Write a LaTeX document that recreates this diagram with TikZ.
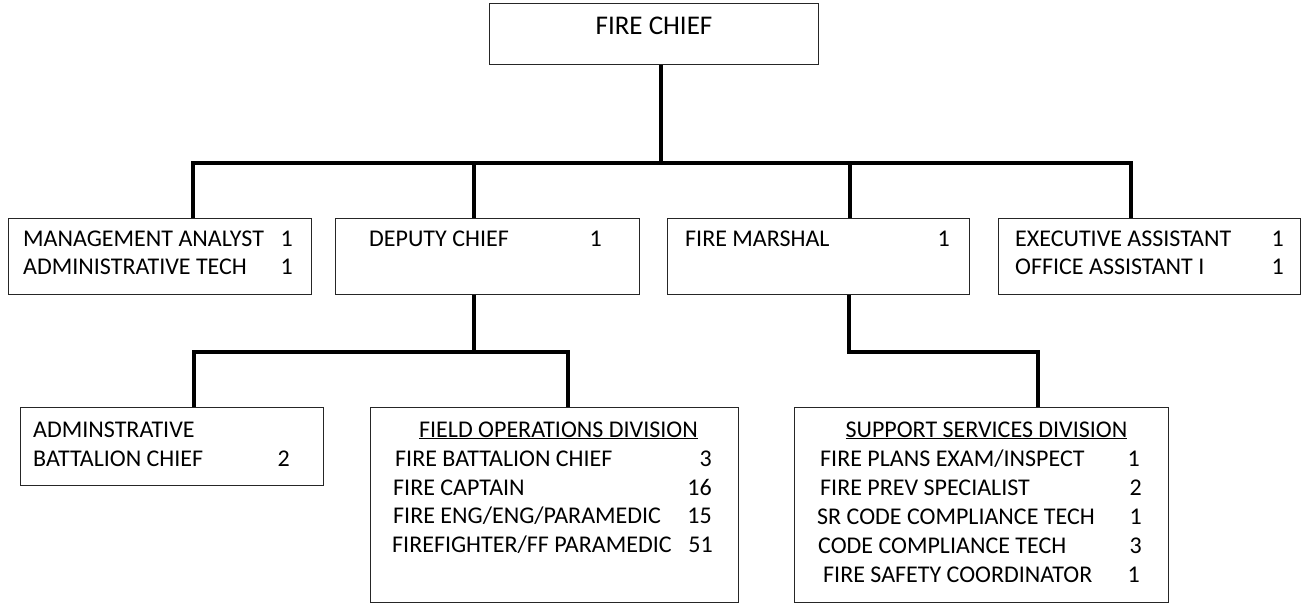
\documentclass[tikz,border=0pt]{standalone}
\usepackage{fontspec}
\setmainfont{Carlito}
\tikzset{
  x=1pt, y=-1pt,
  box/.style={draw=black!85, line width=1.2pt, anchor=north west, inner sep=0pt, rectangle},
  conn/.style={draw=black, line width=4pt, line join=miter},
  lbl/.style={inner sep=0pt, anchor=base west, font=\fontsize{24}{28}\selectfont},
  num/.style={inner sep=0pt, anchor=base east, font=\fontsize{24}{28}\selectfont},
  head/.style={inner sep=0pt, anchor=base, font=\fontsize{24}{28}\selectfont},
}
\begin{document}
\begin{tikzpicture}
\useasboundingbox (0,0) rectangle (1302,604);

% boxes
\node[box, minimum width=329pt, minimum height=61pt] (chief)   at (489,3)   {};
\node[box, minimum width=303pt, minimum height=76pt] (mgmt)    at (8,218)   {};
\node[box, minimum width=304pt, minimum height=76pt] (deputy)  at (335,218) {};
\node[box, minimum width=302pt, minimum height=76pt] (marshal) at (667,218) {};
\node[box, minimum width=302pt, minimum height=76pt] (exec)    at (998,218) {};
\node[box, minimum width=303pt, minimum height=78pt] (admin)   at (20,407)  {};
\node[box, minimum width=368pt, minimum height=195pt] (fod)    at (370,407) {};
\node[box, minimum width=374pt, minimum height=195pt] (ssd)    at (794,407) {};

% bus coordinates
\coordinate (busC)  at (661,163);
\coordinate (busL)  at (193,163);
\coordinate (busD)  at (474,163);
\coordinate (busM)  at (850,163);
\coordinate (busR)  at (1131,163);
\coordinate (depB)  at (474,352);
\coordinate (depL)  at (193.5,352);
\coordinate (depR)  at (568,352);
\coordinate (marB)  at (849,352);
\coordinate (marR)  at (1037.5,352);

% connectors
\draw[conn] (chief.south -| busC) -- (busC);
\draw[conn] (mgmt.north -| busL) -- (busL) -- (busR) -- (exec.north -| busR);
\draw[conn] (busD) -- (deputy.north -| busD);
\draw[conn] (busM) -- (marshal.north -| busM);
\draw[conn] (deputy.south -| depB) -- (depB);
\draw[conn] (admin.north -| depL) -- (depL) -- (depR) -- (fod.north -| depR);
\draw[conn] (marshal.south -| marB) -- (marB) -- (marR) -- (ssd.north -| marR);

% fire chief
\node[head, font=\fontsize{27}{32}\selectfont] (tChief) at (654,35) {FIRE CHIEF};

% management staff
\node[lbl] (tMgmt1) at (23,247) {MANAGEMENT ANALYST};
\node[num] (nMgmt1) at (293,247) {1};
\node[lbl] (tMgmt2) at (23,275) {ADMINISTRATIVE TECH};
\node[num] (nMgmt2) at (293,275) {1};

% deputy chief
\node[lbl] (tDep) at (369,247) {DEPUTY CHIEF};
\node[num] (nDep) at (602,247) {1};

% fire marshal
\node[lbl] (tMar) at (685,247) {FIRE MARSHAL};
\node[num] (nMar) at (950,247) {1};

% executive staff
\node[lbl] (tExe1) at (1015,247) {EXECUTIVE ASSISTANT};
\node[num] (nExe1) at (1284,247) {1};
\node[lbl] (tExe2) at (1015,275) {OFFICE ASSISTANT I};
\node[num] (nExe2) at (1284,275) {1};

% administrative battalion chief
\node[lbl] (tAdm1) at (33,437) {ADMINSTRATIVE};
\node[lbl] (tAdm2) at (33,466) {BATTALION CHIEF};
\node[num] (nAdm2) at (290,466) {2};

% field operations division
\node[head] (tFod) at (558.5,437) {\underline{FIELD OPERATIONS DIVISION}};
\node[lbl] (tFod1) at (395,466) {FIRE BATTALION CHIEF};
\node[num] (nFod1) at (712,466) {3};
\node[lbl] (tFod2) at (393,495) {FIRE CAPTAIN};
\node[num] (nFod2) at (712,495) {16};
\node[lbl] (tFod3) at (393,523) {FIRE ENG/ENG/PARAMEDIC};
\node[num] (nFod3) at (712,523) {15};
\node[lbl] (tFod4) at (392,552) {FIREFIGHTER/FF PARAMEDIC};
\node[num] (nFod4) at (713,552) {51};

% support services division
\node[head] (tSsd) at (986.5,437) {\underline{SUPPORT SERVICES DIVISION}};
\node[lbl] (tSsd1) at (820,466) {FIRE PLANS EXAM/INSPECT};
\node[num] (nSsd1) at (1140,466) {1};
\node[lbl] (tSsd2) at (820,495) {FIRE PREV SPECIALIST};
\node[num] (nSsd2) at (1142,495) {2};
\node[lbl] (tSsd3) at (817,524) {SR CODE COMPLIANCE TECH};
\node[num] (nSsd3) at (1142,524) {1};
\node[lbl] (tSsd4) at (818,553) {CODE COMPLIANCE TECH};
\node[num] (nSsd4) at (1142,553) {3};
\node[lbl] (tSsd5) at (823,582) {FIRE SAFETY COORDINATOR};
\node[num] (nSsd5) at (1140,582) {1};
\end{tikzpicture}
\end{document}
